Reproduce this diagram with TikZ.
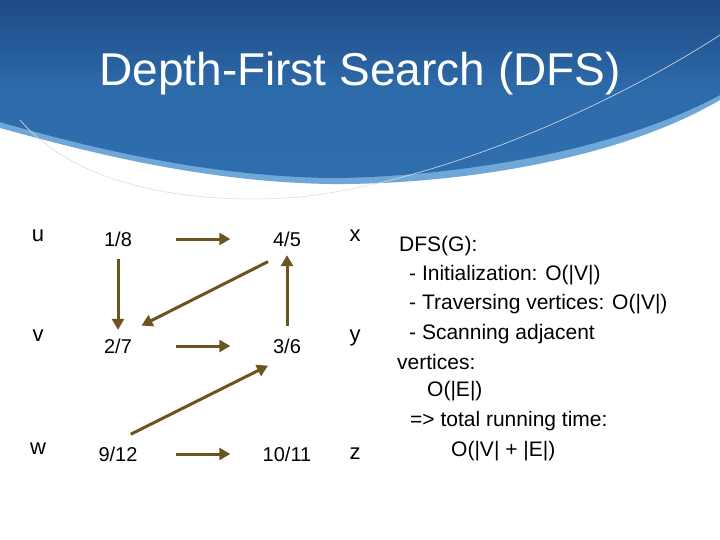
\documentclass[tikz,border=0pt]{standalone}
\usepackage{fontspec}
\setmainfont{Liberation Sans}
\usetikzlibrary{arrows.meta,shapes.geometric}
\definecolor{arr}{HTML}{6B5420}
\definecolor{dblue}{HTML}{1E4A86}
\definecolor{mblue}{HTML}{2F6EAE}
\definecolor{lblue}{HTML}{6FA8D8}
\begin{document}
\begin{tikzpicture}[x=1pt,y=-1pt,
  vnode/.style={ellipse,fill=white,minimum width=107,minimum height=48,inner sep=0pt,font=\fontsize{20}{20}\selectfont},
  lab/.style={font=\fontsize{22}{22}\selectfont},
  edge/.style={draw=arr,line width=3pt,-{Triangle[length=11pt,width=12pt]}},
  txt/.style={anchor=west,font=\fontsize{21}{21}\selectfont,inner sep=0pt}]
\useasboundingbox (0,0) rectangle (720,540);
\fill[white] (0,0) rectangle (720,540);
% banner
\fill[lblue] (0,0) -- (720,0) -- (720,100) .. controls (600,170) and (420,185) .. (330,184) .. controls (200,182) and (80,150) .. (0,128) -- cycle;
\shade[top color=dblue,bottom color=mblue,middle color=mblue!90!dblue] (0,0) -- (720,0) -- (720,95) .. controls (600,160) and (420,178) .. (330,178) .. controls (200,176) and (80,145) .. (0,122) -- cycle;
\draw[gray!25,line width=0.6pt] (20,120) .. controls (80,190) and (200,205) .. (300,197) .. controls (450,180) and (620,100) .. (720,35);
\node[white,font=\fontsize{46}{46}\selectfont] (title) at (360,74) {Depth-First Search (DFS)};
% graph nodes
\node[vnode] (u) at (118,239) {1/8};
\node[vnode] (x) at (287,239) {4/5};
\node[vnode] (v) at (118,346) {2/7};
\node[vnode] (y) at (287,346) {3/6};
\node[vnode] (w) at (118,454) {9/12};
\node[vnode] (z) at (287,454) {10/11};
\node[lab] (lu) at (38,236) {u};
\node[lab] (lv) at (38,336) {v};
\node[lab] (lw) at (38,449) {w};
\node[lab] (lx) at (355,236) {x};
\node[lab] (ly) at (355,338) {y};
\node[lab] (lz) at (355,454) {z};
% edges
\draw[edge] ([xshift=4pt]u.east) -- ([xshift=-3pt]x.west);
\draw[edge] ([yshift=4pt]u.south) -- ([yshift=-8pt]v.north);
\draw[edge] (x.-130) -- ([shift={(10pt,-3pt)}]v.60);
\draw[edge] ([yshift=-4pt]y.north) -- ([yshift=8pt]x.south);
\draw[edge] ([xshift=4pt]v.east) -- ([xshift=-3pt]y.west);
\draw[edge] ([shift={(-5pt,-3pt)}]w.52) -- ([shift={(0pt,3pt)}]y.-130);
\draw[edge] ([xshift=4pt]w.east) -- ([xshift=-3pt]z.west);
% text
\node[txt] (t1) at (399,246) {DFS(G):};
\node[txt] (t2) at (409,275) {- Initialization: O(|V|)};
\node[txt] (t3) at (409,304) {- Traversing vertices: O(|V|)};
\node[txt] (t4) at (409,334) {- Scanning adjacent};
\node[txt] (t5) at (397,362) {vertices:};
\node[txt] (t6) at (427,391) {O(|E|)};
\node[txt] (t7) at (410,421) {=> total running time:};
\node[txt] (t8) at (451,451) {O(|V| + |E|)};
\end{tikzpicture}
\end{document}
